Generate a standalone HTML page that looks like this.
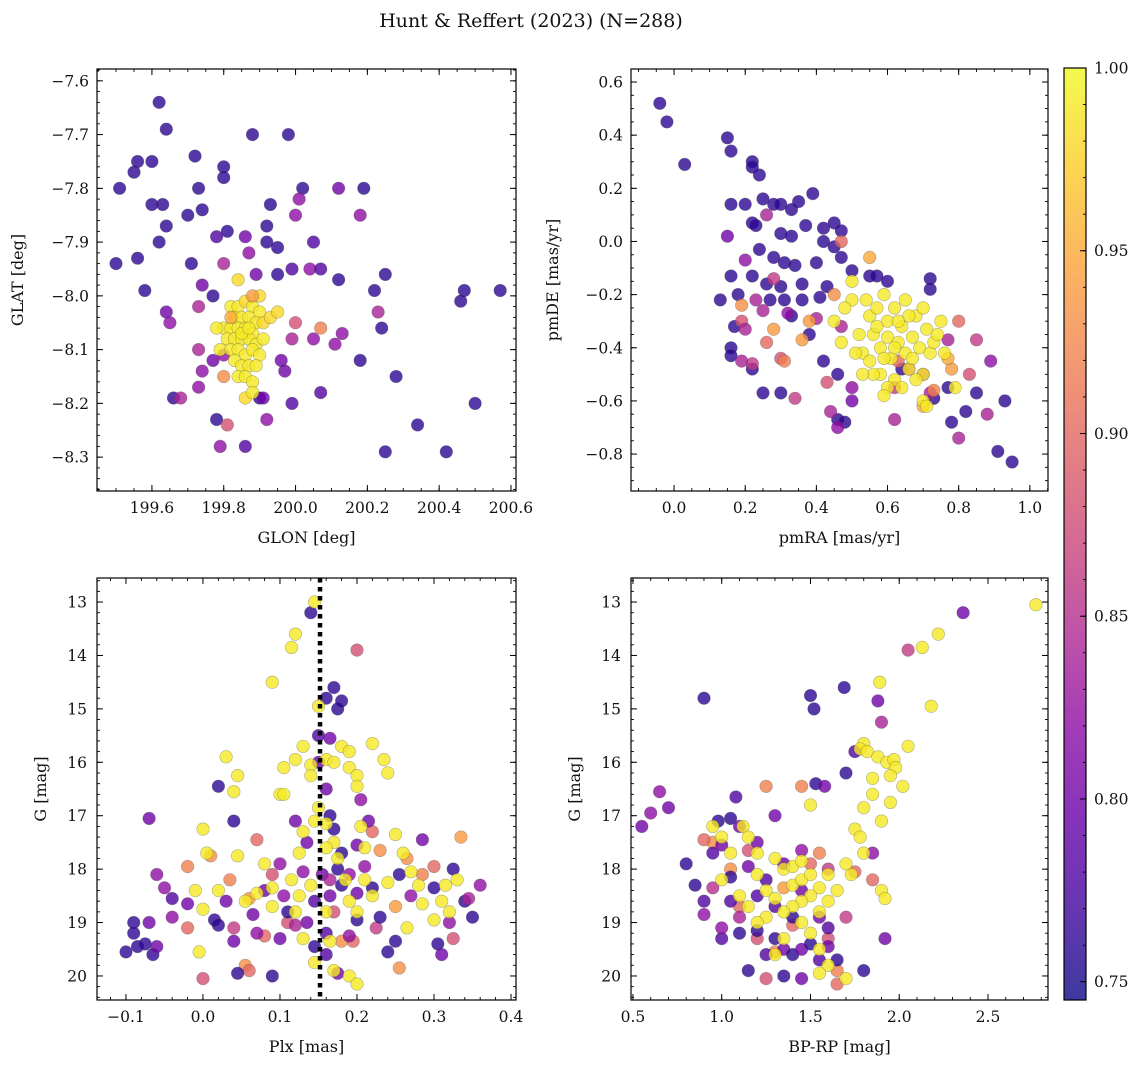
<!DOCTYPE html>
<html><head><meta charset="utf-8">
<style>
html,body{margin:0;padding:0;background:#fff;}
svg text{font-family:"DejaVu Serif","Liberation Serif",serif;fill:#111;}
</style></head>
<body>
<svg id="fig" width="1148" height="1068" viewBox="0 0 1148 1068" xmlns="http://www.w3.org/2000/svg">
<text x="531" y="27" font-size="19" text-anchor="middle">Hunt &amp; Reffert (2023) (N=288)</text>
</svg>
<script>
// ---------- data ----------
const posPurple = [[199.62,-7.64,.76],[199.64,-7.69,.76],[199.51,-7.80,.76],[199.55,-7.77,.76],[199.56,-7.75,.76],[199.60,-7.75,.76],[199.56,-7.93,.76],[199.50,-7.94,.76],[199.60,-7.83,.76],[199.63,-7.83,.76],[199.62,-7.90,.76],[199.64,-7.87,.76],[199.58,-7.99,.76],[199.72,-7.74,.76],[199.73,-7.80,.76],[199.70,-7.85,.76],[199.74,-7.84,.76],[199.71,-7.94,.76],[199.80,-7.76,.76],[199.80,-7.78,.76],[199.88,-7.70,.76],[199.98,-7.70,.76],[199.78,-7.89,.78],[199.81,-7.88,.76],[199.86,-7.89,.8],[199.93,-7.83,.76],[199.92,-7.87,.76],[199.92,-7.90,.76],[199.95,-7.91,.76],[200.02,-7.80,.76],[200.01,-7.82,.82],[200.00,-7.85,.82],[200.12,-7.80,.8],[200.19,-7.80,.76],[200.18,-7.85,.82],[200.05,-7.90,.78],[199.99,-7.95,.78],[200.04,-7.95,.82],[200.07,-7.95,.78],[199.95,-7.96,.76],[199.89,-7.96,.8],[199.87,-7.92,.82],[199.80,-7.94,.84],[199.74,-7.98,.8],[199.73,-8.02,.84],[199.77,-8.00,.76],[199.64,-8.03,.8],[199.65,-8.05,.82],[200.12,-7.97,.76],[200.22,-7.99,.76],[200.25,-7.96,.76],[200.23,-8.03,.84],[200.24,-8.06,.76],[200.47,-7.99,.76],[200.57,-7.99,.76],[200.46,-8.01,.76],[200.07,-8.06,.92],[200.05,-8.08,.82],[200.13,-8.07,.82],[200.11,-8.09,.82],[200.18,-8.12,.76],[200.28,-8.15,.76],[200.50,-8.20,.76],[200.34,-8.24,.76],[200.25,-8.29,.76],[200.42,-8.29,.76],[200.07,-8.18,.78],[199.99,-8.20,.78],[199.92,-8.23,.82],[199.86,-8.28,.78],[199.79,-8.28,.82],[199.78,-8.23,.76],[199.81,-8.24,.88],[199.66,-8.19,.76],[199.68,-8.19,.84],[199.73,-8.17,.82],[199.73,-8.10,.84],[199.74,-8.14,.82],[199.77,-8.12,.8],[199.80,-8.11,.82],[199.96,-8.12,.8],[199.97,-8.14,.8],[199.99,-8.08,.84],[200.00,-8.05,.88],[199.90,-8.19,.76],[199.91,-8.19,.8]];
const posYellow = [[199.82,-8.02,.99],[199.84,-8.02,.99],[199.86,-8.01,.98],[199.88,-8.02,.99],[199.90,-8.03,.99],[199.83,-8.04,.99],[199.85,-8.04,.99],[199.87,-8.04,.99],[199.89,-8.05,.99],[199.91,-8.05,.98],[199.80,-8.06,.99],[199.82,-8.06,.99],[199.84,-8.06,.99],[199.86,-8.06,.99],[199.88,-8.07,.99],[199.93,-8.04,.98],[199.81,-8.08,.99],[199.83,-8.08,.99],[199.85,-8.08,.99],[199.87,-8.08,.99],[199.89,-8.09,.99],[199.91,-8.08,.99],[199.79,-8.10,.99],[199.82,-8.10,.99],[199.84,-8.10,.99],[199.86,-8.11,.99],[199.88,-8.10,.99],[199.90,-8.11,.99],[199.83,-8.12,.99],[199.85,-8.13,.99],[199.87,-8.13,.99],[199.89,-8.13,.99],[199.84,-8.15,.99],[199.86,-8.15,.99],[199.88,-8.16,.99],[199.86,-8.19,.98],[199.88,-8.18,.99],[199.85,-8.07,.99],[199.87,-8.06,.99],[199.84,-7.97,.98],[199.95,-8.03,.98],[199.78,-8.06,.99],[199.90,-8.00,.98],[199.82,-8.04,.95],[199.88,-8.00,.94],[199.80,-8.15,.93]];
const pmPurple = [[-0.04,0.52,.76],[-0.02,0.45,.76],[0.03,0.29,.76],[0.15,0.39,.76],[0.16,0.34,.76],[0.22,0.30,.76],[0.22,0.28,.76],[0.24,0.25,.76],[0.25,0.16,.76],[0.16,0.14,.76],[0.2,0.14,.76],[0.28,0.14,.76],[0.3,0.14,.76],[0.35,0.15,.76],[0.33,0.12,.76],[0.39,0.18,.76],[0.37,0.06,.76],[0.42,0.05,.76],[0.45,0.07,.76],[0.47,0.04,.76],[0.22,0.07,.76],[0.23,0.06,.76],[0.3,0.03,.76],[0.33,0.02,.76],[0.42,0.0,.76],[0.45,-0.02,.76],[0.24,-0.03,.76],[0.28,-0.06,.76],[0.31,-0.08,.76],[0.34,-0.09,.76],[0.5,-0.11,.76],[0.47,-0.06,.76],[0.4,-0.08,.76],[0.16,-0.13,.76],[0.22,-0.13,.76],[0.26,-0.16,.76],[0.3,-0.17,.76],[0.36,-0.16,.76],[0.43,-0.17,.76],[0.55,-0.13,.76],[0.57,-0.13,.76],[0.13,-0.22,.76],[0.18,-0.2,.76],[0.17,-0.32,.76],[0.27,-0.22,.76],[0.31,-0.22,.76],[0.36,-0.22,.76],[0.41,-0.21,.76],[0.16,-0.4,.76],[0.16,-0.43,.76],[0.22,-0.48,.76],[0.25,-0.57,.76],[0.3,-0.57,.76],[0.33,-0.28,.76],[0.38,-0.35,.76],[0.42,-0.45,.76],[0.46,-0.5,.76],[0.46,-0.67,.76],[0.48,-0.68,.76],[0.6,-0.15,.76],[0.72,-0.14,.76],[0.72,-0.18,.76],[0.77,-0.55,.76],[0.78,-0.68,.76],[0.82,-0.64,.76],[0.85,-0.57,.76],[0.93,-0.6,.76],[0.95,-0.83,.76],[0.91,-0.79,.76],[0.73,-0.59,.76],[0.64,-0.48,.76],[0.15,0.02,.8],[0.2,-0.07,.82],[0.23,-0.22,.84],[0.19,-0.3,.88],[0.2,-0.33,.84],[0.26,0.1,.84],[0.28,-0.14,.86],[0.25,-0.26,.84],[0.3,-0.44,.88],[0.32,-0.27,.82],[0.34,-0.59,.86],[0.4,-0.29,.84],[0.44,-0.64,.84],[0.46,-0.7,.82],[0.5,-0.6,.8],[0.47,0.0,.9],[0.62,-0.55,.86],[0.66,-0.48,.84],[0.7,-0.5,.84],[0.72,-0.57,.84],[0.77,-0.37,.84],[0.8,-0.3,.9],[0.83,-0.5,.88],[0.85,-0.37,.86],[0.89,-0.45,.82],[0.88,-0.65,.84],[0.8,-0.74,.84],[0.62,-0.67,.84],[0.63,-0.45,.9],[0.43,-0.53,.88],[0.47,-0.32,.84],[0.26,-0.38,.9],[0.22,-0.46,.86],[0.19,-0.45,.84],[0.5,-0.55,.82],[0.19,-0.24,.93],[0.28,-0.33,.94],[0.31,-0.45,.92],[0.36,-0.37,.94],[0.45,-0.2,.93],[0.55,-0.06,.95],[0.78,-0.48,.94],[0.77,-0.44,.95],[0.7,-0.62,.95],[0.73,-0.56,.92],[0.38,-0.3,.94]];
const pmYellow = [[0.45,-0.3],[0.47,-0.38],[0.5,-0.22],[0.52,-0.35],[0.53,-0.42],[0.55,-0.28],[0.55,-0.45],[0.56,-0.35],[0.57,-0.25],[0.58,-0.4],[0.58,-0.5],[0.6,-0.3],[0.6,-0.36],[0.61,-0.44],[0.62,-0.25],[0.62,-0.52],[0.63,-0.38],[0.64,-0.32],[0.65,-0.42],[0.65,-0.22],[0.66,-0.48],[0.67,-0.36],[0.68,-0.28],[0.69,-0.4],[0.7,-0.25],[0.7,-0.5],[0.71,-0.33],[0.72,-0.42],[0.73,-0.38],[0.75,-0.3],[0.76,-0.42],[0.79,-0.55],[0.6,-0.55],[0.64,-0.55],[0.68,-0.52],[0.54,-0.22],[0.5,-0.15],[0.48,-0.25],[0.57,-0.32],[0.59,-0.2],[0.66,-0.28],[0.56,-0.5],[0.53,-0.5],[0.51,-0.42],[0.59,-0.44],[0.63,-0.3],[0.67,-0.44],[0.74,-0.35],[0.7,-0.6],[0.71,-0.62],[0.59,-0.58],[0.62,-0.4]];
const plxYellow = [[0.145,13.0],[0.12,13.6],[0.115,13.85],[0.09,14.5],[0.15,14.95],[0.045,16.25],[0.04,16.55],[0.1,16.6],[0.12,15.95],[0.13,15.7],[0.14,16.05],[0.14,16.25],[0.16,15.95],[0.17,16.0],[0.18,15.7],[0.19,15.8],[0.19,16.1],[0.2,16.25],[0.2,16.45],[0.22,15.65],[0.235,15.95],[0.24,16.2],[0.03,15.9],[0.105,16.1],[0.105,16.6],[0.15,16.85],[0.16,17.15],[0.17,17.5],[0.145,17.1],[0.13,17.3],[0.125,17.7],[0.175,17.8],[0.205,17.2],[0.21,17.6],[0.25,17.35],[0.26,17.7],[0.0,17.25],[0.005,17.7],[0.045,17.75],[-0.01,18.4],[0.0,18.75],[-0.005,19.55],[0.02,18.4],[0.055,18.6],[0.07,18.45],[0.09,18.35],[0.115,18.2],[0.125,18.5],[0.14,18.3],[0.12,18.8],[0.13,19.3],[0.16,18.8],[0.165,19.35],[0.17,19.9],[0.185,18.2],[0.19,18.6],[0.2,18.8],[0.21,18.2],[0.22,18.5],[0.24,18.25],[0.27,18.05],[0.28,18.3],[0.285,18.65],[0.3,18.95],[0.31,18.6],[0.315,18.3],[0.32,18.8],[0.33,18.2],[0.265,19.1],[0.145,19.75],[0.16,17.6],[0.08,17.9],[0.09,18.7],[0.19,20.0],[0.2,20.15]];
const plxOther = [[0.01,17.75,.93],[-0.02,17.95,.92],[0.07,17.45,.9],[0.035,18.2,.92],[0.06,18.55,.94],[0.055,19.8,.93],[0.06,19.9,.9],[0.0,20.05,.88],[0.255,19.85,.93],[0.265,17.8,.93],[0.285,18.1,.92],[0.325,19.3,.88],[0.335,17.4,.94],[0.22,17.3,.9],[0.23,17.65,.93],[0.18,19.35,.93],[0.195,19.35,.9],[0.11,19.0,.88],[0.08,19.25,.9],[0.25,18.7,.94],[0.04,19.1,.86],[0.09,18.1,.88],[-0.02,19.1,.9],[0.2,13.9,.88],[0.17,18.8,.88],[0.225,19.1,.86],[0.3,17.95,.9],[-0.07,17.05,.8],[-0.06,18.1,.82],[-0.05,18.35,.82],[-0.09,19.0,.76],[-0.1,19.55,.76],[-0.085,19.45,.76],[-0.075,19.4,.76],[-0.065,19.6,.76],[-0.06,19.45,.8],[-0.09,19.2,.76],[-0.07,19.0,.8],[-0.04,18.55,.78],[-0.04,18.9,.82],[-0.02,18.65,.8],[0.02,16.45,.76],[0.04,17.1,.76],[0.015,18.95,.76],[0.03,18.6,.8],[0.02,19.05,.76],[0.04,19.35,.8],[0.045,19.95,.76],[0.065,18.85,.8],[0.08,18.4,.8],[0.09,20.0,.76],[0.1,19.3,.8],[0.105,18.5,.82],[0.12,17.1,.8],[0.135,17.5,.8],[0.14,13.2,.76],[0.16,14.8,.76],[0.17,14.6,.76],[0.175,15.0,.76],[0.18,14.85,.76],[0.15,15.5,.78],[0.165,15.55,.8],[0.15,16.0,.8],[0.16,16.5,.8],[0.165,17.0,.76],[0.17,17.25,.76],[0.175,18.0,.76],[0.18,18.3,.76],[0.165,18.5,.8],[0.16,19.2,.78],[0.145,19.45,.76],[0.16,19.6,.78],[0.175,19.95,.8],[0.19,19.25,.82],[0.2,18.95,.76],[0.2,18.45,.8],[0.21,17.95,.82],[0.205,16.7,.82],[0.215,17.1,.8],[0.22,18.35,.76],[0.23,18.9,.76],[0.25,19.35,.76],[0.24,19.55,.76],[0.255,18.1,.76],[0.27,18.5,.82],[0.285,17.45,.8],[0.3,18.35,.76],[0.305,19.4,.76],[0.31,19.6,.8],[0.32,19.0,.82],[0.34,18.6,.76],[0.35,18.9,.76],[0.36,18.3,.82],[0.345,18.55,.84],[0.325,18.0,.76],[0.11,18.8,.76],[0.13,18.05,.82],[0.135,19.0,.8],[0.1,17.9,.82],[0.12,19.05,.84],[0.07,19.2,.82],[0.2,17.55,.8],[0.18,17.7,.76],[0.145,18.6,.78],[0.155,18.1,.8],[0.165,18.2,.84],[0.19,18.1,.82]];
const cmdYellow = [[2.77,13.05],[2.22,13.6],[2.13,13.85],[2.18,14.95],[1.89,14.5],[1.8,15.65],[1.78,15.75],[1.82,15.8],[1.88,15.9],[1.93,16.0],[1.97,15.95],[2.05,15.7],[1.98,16.1],[1.95,16.25],[2.02,16.45],[1.85,16.3],[1.85,16.6],[1.8,16.85],[1.9,17.1],[1.95,16.75],[1.75,17.25],[1.78,17.4],[1.8,17.7],[1.73,18.1],[1.9,18.4],[1.92,18.55],[1.5,16.8],[1.12,17.2],[1.15,17.4],[0.95,17.2],[1.0,17.4],[1.05,17.7],[1.0,18.2],[1.2,17.7],[1.2,18.1],[1.25,18.4],[1.3,17.8],[1.35,18.0],[1.4,18.3],[1.45,18.2],[1.5,18.1],[1.55,18.35],[1.5,18.5],[1.45,18.6],[1.4,18.7],[1.35,18.8],[1.3,18.55],[1.25,18.9],[1.45,19.0],[1.55,18.8],[1.6,18.6],[1.35,19.3],[1.5,19.2],[1.55,19.5],[1.6,19.8],[1.55,19.95],[1.3,19.6],[1.7,20.05],[1.4,17.95],[1.45,17.85],[1.15,18.7],[1.2,19.0],[1.1,18.5],[1.6,18.1],[1.65,18.4],[1.7,17.9]];
const cmdOther = [[1.25,16.45,.92],[1.45,16.45,.92],[0.95,17.5,.93],[1.05,18.0,.93],[1.1,18.7,.9],[1.2,19.3,.88],[1.3,19.55,.92],[1.65,19.9,.92],[1.65,20.15,.9],[1.25,20.05,.88],[1.55,17.7,.92],[1.75,18.05,.9],[1.35,18.35,.94],[1.5,17.9,.9],[1.4,19.05,.9],[1.6,19.3,.88],[2.05,13.9,.86],[1.9,15.25,.84],[0.9,17.45,.9],[1.15,17.65,.88],[1.7,18.9,.86],[1.85,18.2,.9],[1.6,18.0,.86],[0.95,18.35,.85],[0.55,17.2,.8],[0.6,16.95,.82],[0.65,16.55,.82],[0.7,16.85,.8],[0.8,17.9,.76],[0.85,18.3,.76],[0.9,18.6,.78],[0.9,18.85,.82],[0.95,17.7,.78],[0.98,17.1,.76],[1.0,17.55,.8],[1.05,17.05,.76],[1.1,17.2,.8],[1.05,18.15,.76],[1.05,18.6,.78],[1.1,19.2,.76],[1.0,19.3,.78],[1.2,19.15,.76],[1.15,19.9,.76],[1.25,19.6,.78],[1.3,19.3,.76],[1.35,19.5,.8],[1.4,19.6,.76],[1.45,19.5,.8],[1.5,19.4,.76],[1.55,19.7,.78],[1.6,19.45,.8],[1.65,19.7,.76],[1.8,19.9,.76],[1.35,20.0,.76],[1.45,20.05,.8],[0.9,14.8,.76],[1.5,14.75,.76],[1.52,15.0,.76],[1.69,14.6,.76],[1.53,16.4,.76],[1.58,16.45,.8],[1.7,16.2,.76],[1.75,15.8,.78],[1.88,14.85,.8],[2.36,13.2,.8],[1.92,19.3,.8],[1.85,17.7,.82],[1.2,17.5,.8],[1.3,17.0,.8],[1.25,18.2,.78],[1.3,18.7,.78],[1.4,18.9,.76],[1.45,18.4,.8],[1.55,18.9,.8],[1.6,19.1,.78],[1.35,17.9,.8],[1.45,17.65,.82],[1.2,18.5,.78],[1.15,17.95,.8],[1.08,16.65,.78],[1.0,19.1,.82],[1.1,18.9,.84]];
const ticksGlon = [199.6,199.8,200.0,200.2,200.4,200.6];
const ticksGlat = [-7.6,-7.7,-7.8,-7.9,-8.0,-8.1,-8.2,-8.3];
const ticksPmra = [0.0,0.2,0.4,0.6,0.8,1.0];
const ticksPmde = [0.6,0.4,0.2,0.0,-0.2,-0.4,-0.6,-0.8];
const ticksPlx = [-0.1,0.0,0.1,0.2,0.3,0.4];
const ticksG = [13,14,15,16,17,18,19,20];
const ticksBpRp = [0.5,1.0,1.5,2.0,2.5];
const ticksProb = [0.75,0.80,0.85,0.90,0.95,1.00];
const plxLine = [0.152];

const NS="http://www.w3.org/2000/svg";
const svg=document.getElementById('fig');
function mk(tag,attrs,parent){const e=document.createElementNS(NS,tag);for(const k in attrs)e.setAttribute(k,attrs[k]);(parent||svg).appendChild(e);return e;}
const PL=[[13,8,135],[65,4,157],[106,0,168],[143,13,164],[177,42,144],[204,71,120],[225,100,98],[242,132,75],[252,166,54],[252,206,37],[240,249,33]];
const CMIN=0.745,CMAX=1.0;
function cmap(v){let t=Math.max(0,Math.min(1,(v-CMIN)/(CMAX-CMIN)))*10;const i=Math.min(9,Math.floor(t)),f=t-i;const a=PL[i],b=PL[i+1];return `rgb(${a.map((x,k)=>Math.round(x+(b[k]-x)*f)).join(',')})`;}
function fmt(v,d){const s=v.toFixed(d);return s.replace('-','\u2212');}

function panel(o){
  const g=mk('g',{});
  
  
  const sx=v=>o.x0+(v-o.xmin)/(o.xmax-o.xmin)*(o.x1-o.x0);
  const sy=v=>o.y0+(v-o.ymax)/(o.ymin-o.ymax)*(o.y1-o.y0);
  const pts=mk('g',{},g);
  
  
  o.series.forEach(s=>{s.forEach(p=>{const c=mk('circle',{cx:sx(p[0]).toFixed(1),cy:sy(p[1]).toFixed(1),r:6.3,fill:cmap(p.length>2?p[2]:0.99),'fill-opacity':0.8,stroke:'rgba(70,70,70,0.4)','stroke-width':0.6},pts);
    
    });});
  if(o.vline){o.vline.forEach(v=>{const l=mk('line',{x1:sx(v),x2:sx(v),y1:o.y0,y2:o.y1,stroke:'#000','stroke-width':4.5,'stroke-dasharray':'4.5,4.5'},g);
    
    });}
  const fr=mk('rect',{x:o.x0,y:o.y0,width:o.x1-o.x0,height:o.y1-o.y0,fill:'none',stroke:'#000','stroke-width':1.2},g);
  
  
  for(let v=Math.ceil(o.xmin/o.xminor-1e-6)*o.xminor;v<=o.xmax;v+=o.xminor){const X=sx(v);mk('line',{x1:X,x2:X,y1:o.y1,y2:o.y1-3,stroke:'#000','stroke-width':0.9},g);mk('line',{x1:X,x2:X,y1:o.y0,y2:o.y0+3,stroke:'#000','stroke-width':0.9},g);}
  for(let v=Math.ceil(o.ymin/o.yminor-1e-6)*o.yminor;v<=o.ymax;v+=o.yminor){const Y=sy(v);mk('line',{x1:o.x0,x2:o.x0+3,y1:Y,y2:Y,stroke:'#000','stroke-width':0.9},g);mk('line',{x1:o.x1,x2:o.x1-3,y1:Y,y2:Y,stroke:'#000','stroke-width':0.9},g);}
  o.xticks.forEach(v=>{const X=sx(v);mk('line',{x1:X,x2:X,y1:o.y1,y2:o.y1-6,stroke:'#000','stroke-width':1},g);mk('line',{x1:X,x2:X,y1:o.y0,y2:o.y0+6,stroke:'#000','stroke-width':1},g);
    const t=mk('text',{x:X,y:o.y1+22,'font-size':15.5,'text-anchor':'middle'},g);t.textContent=fmt(v,o.xd);
    
    });
  o.yticks.forEach(v=>{const Y=sy(v);mk('line',{x1:o.x0,x2:o.x0+6,y1:Y,y2:Y,stroke:'#000','stroke-width':1},g);mk('line',{x1:o.x1,x2:o.x1-6,y1:Y,y2:Y,stroke:'#000','stroke-width':1},g);
    const t=mk('text',{x:o.x0-8,y:Y+5.5,'font-size':15.5,'text-anchor':'end'},g);t.textContent=fmt(v,o.yd);
    
    });
  const xl=mk('text',{x:(o.x0+o.x1)/2,y:o.y1+52,'font-size':16,'text-anchor':'middle'},g);xl.textContent=o.xlabel;
  
  
  const yl=mk('text',{x:o.ylx,y:(o.y0+o.y1)/2,'font-size':16,'text-anchor':'middle',transform:`rotate(-90 ${o.ylx} ${(o.y0+o.y1)/2})`},g);yl.textContent=o.ylabel;
  
  
}
panel({name:'position-panel',x0:97,x1:516,y0:69,y1:491,xmin:199.447,xmax:200.614,ymin:-8.363,ymax:-7.578,xticks:ticksGlon,yticks:ticksGlat,xminor:0.05,yminor:0.02,xd:1,yd:1,xlabel:'GLON [deg]',ylabel:'GLAT [deg]',ylx:23,series:[posPurple,posYellow]});
panel({name:'proper-motion-panel',x0:631,x1:1048,y0:69,y1:491,xmin:-0.121,xmax:1.051,ymin:-0.939,ymax:0.649,xticks:ticksPmra,yticks:ticksPmde,xminor:0.05,yminor:0.05,xd:1,yd:1,xlabel:'pmRA [mas/yr]',ylabel:'pmDE [mas/yr]',ylx:558,series:[pmPurple,pmYellow]});
panel({name:'parallax-panel',x0:97,x1:516,y0:578,y1:1000,xmin:-0.1376,xmax:0.4065,ymin:-20.45,ymax:-12.55,xticks:ticksPlx,yticks:[],xminor:0.02,yminor:0.2,xd:1,yd:0,xlabel:'Plx [mas]',ylabel:'G [mag]',ylx:46,series:[plxOther.map(p=>[p[0],-p[1],p[2]]),plxYellow.map(p=>[p[0],-p[1]])],vline:plxLine});
panel({name:'cmd-panel',x0:631,x1:1048,y0:578,y1:1000,xmin:0.489,xmax:2.838,ymin:-20.45,ymax:-12.55,xticks:ticksBpRp,yticks:[],xminor:0.1,yminor:0.2,xd:1,yd:0,xlabel:'BP-RP [mag]',ylabel:'G [mag]',ylx:580,series:[cmdOther.map(p=>[p[0],-p[1],p[2]]),cmdYellow.map(p=>[p[0],-p[1]])]});
[[97,516],[631,1048]].forEach(([x0,x1])=>{ticksG.forEach(v=>{const Y=578+(v-12.55)/(20.45-12.55)*422;mk('line',{x1:x0,x2:x0+6,y1:Y,y2:Y,stroke:'#000','stroke-width':1});mk('line',{x1:x1,x2:x1-6,y1:Y,y2:Y,stroke:'#000','stroke-width':1});
  const t=mk('text',{x:x0-10,y:Y+5.5,'font-size':15.5,'text-anchor':'end'});t.textContent=String(v);
  
  });});
const cb=mk('g',{});


const defs=mk('defs',{},cb);const lg=mk('linearGradient',{id:'pl',x1:0,y1:1,x2:0,y2:0},defs);
PL.forEach((c,i)=>mk('stop',{offset:i/10,'stop-color':`rgb(${c.join(',')})`},lg));
const CB={x0:1064,x1:1086,y0:68,y1:1000};
const cy=v=>CB.y1-(v-CMIN)/(CMAX-CMIN)*(CB.y1-CB.y0);
mk('rect',{x:CB.x0,y:CB.y0,width:CB.x1-CB.x0,height:CB.y1-CB.y0,fill:'url(#pl)','fill-opacity':0.8},cb);
mk('rect',{x:CB.x0,y:CB.y0,width:CB.x1-CB.x0,height:CB.y1-CB.y0,fill:'none',stroke:'#000','stroke-width':1.2},cb);
for(let v=0.75;v<=1.0001;v+=0.01){const Y=cy(v);mk('line',{x1:CB.x1,x2:CB.x1-3,y1:Y,y2:Y,stroke:'#000','stroke-width':0.9},cb);}
ticksProb.forEach(v=>{const Y=cy(v);mk('line',{x1:CB.x1,x2:CB.x1-6,y1:Y,y2:Y,stroke:'#000','stroke-width':1},cb);
  const t=mk('text',{x:CB.x1+8,y:Y+5.5,'font-size':15.5},cb);t.textContent=v.toFixed(2);
  
  });
</script>
</body></html>
